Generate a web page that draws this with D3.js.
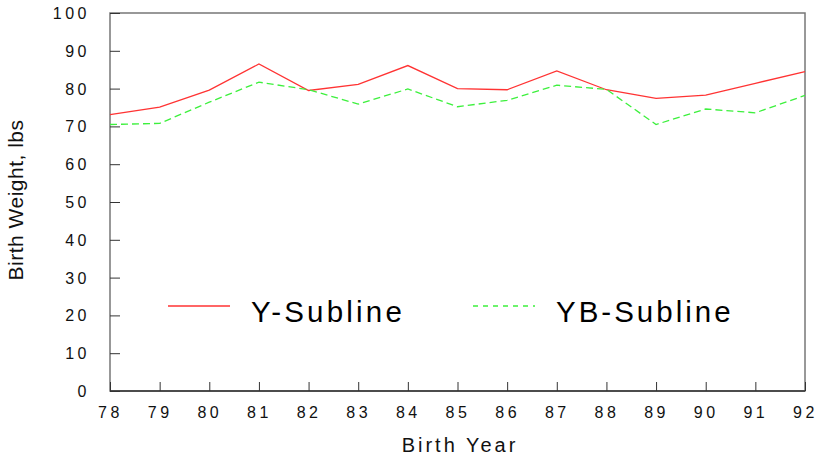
<!DOCTYPE html>
<html><head><meta charset="utf-8">
<script src="https://cdn.jsdelivr.net/npm/d3@7"></script>
<style>body{margin:0;background:#fff}text{font-family:"Liberation Sans",Arial,sans-serif}</style>
</head><body><svg id="c" width="820" height="457"></svg>
<script>
const years = [78,79,80,81,82,83,84,85,86,87,88,89,90,91,92];
const ySubline = [73.1,75.1,79.6,86.5,79.5,81.1,86.1,80.0,79.7,84.7,79.7,77.4,78.3,81.4,84.5];
const ybSubline = [70.5,70.8,76.4,81.7,79.7,75.9,79.9,75.2,76.9,80.9,79.8,70.5,74.6,73.6,78.2];
const yTicks = [0,10,20,30,40,50,60,70,80,90,100];
const seriesNames = ["Y-Subline","YB-Subline"];

const svg = d3.select("#c");
const L=110,R=805,T=13,B=391;
const x = d3.scaleLinear().domain([78,92]).range([L,R]);
const y = d3.scaleLinear().domain([0,100]).range([B,T]);

// frame
svg.append("rect").attr("x",L).attr("y",T).attr("width",R-L).attr("height",B-T)
  .attr("fill","none").attr("stroke","#777").attr("stroke-width",1.5);
svg.append("line").attr("x1",L).attr("x2",R).attr("y1",B).attr("y2",B).attr("stroke","#333").attr("stroke-width",1.5);

// y axis
const ya = svg.append("g").attr("transform",`translate(${L},0)`)
  .call(d3.axisRight(y).tickValues(yTicks).tickSize(10).tickFormat(""));
ya.select(".domain").remove();
ya.selectAll("line").attr("stroke","#333");
svg.selectAll(".ylab").data(yTicks).enter().append("text")
  .attr("x",90).attr("y",d=>y(d)+6).attr("text-anchor","end")
  .attr("font-size",16).attr("letter-spacing",3.5).attr("fill","#111").text(d=>d);

// x axis
const xa = svg.append("g").attr("transform",`translate(0,${B})`)
  .call(d3.axisTop(x).tickValues(years).tickSize(9).tickFormat(""));
xa.select(".domain").remove();
xa.selectAll("line").attr("stroke","#333");
svg.selectAll(".xlab").data(years).enter().append("text")
  .attr("x",d=>x(d)+0.5).attr("y",418).attr("text-anchor","middle")
  .attr("font-size",16).attr("letter-spacing",3.5).attr("fill","#111").text(d=>d);

svg.append("text").attr("x",460).attr("y",452).attr("text-anchor","middle")
  .attr("font-size",20).attr("letter-spacing",3).attr("fill","#111").text("Birth Year");
svg.append("text").attr("transform","translate(23,200) rotate(-90)").attr("text-anchor","middle")
  .attr("font-size",21).attr("letter-spacing",0.5).attr("fill","#111").text("Birth Weight, lbs");

const line = d3.line().x((d,i)=>x(years[i])).y(d=>y(d));
svg.append("path").datum(ySubline).attr("d",line).attr("fill","none").attr("stroke","#ff3333").attr("stroke-width",1.3);
svg.append("path").datum(ybSubline).attr("d",line).attr("fill","none").attr("stroke","#3df03d").attr("stroke-width",1.3).attr("stroke-dasharray","7,4");

// legend
svg.append("line").attr("x1",168).attr("x2",230).attr("y1",306).attr("y2",306).attr("stroke","#ff3333").attr("stroke-width",1.3);
svg.append("text").attr("x",251).attr("y",322).attr("font-size",29.5).attr("letter-spacing",3.2).attr("fill","#000").text(seriesNames[0]);
svg.append("line").attr("x1",473).attr("x2",535).attr("y1",306).attr("y2",306).attr("stroke","#3df03d").attr("stroke-width",1.3).attr("stroke-dasharray","5,5");
svg.append("text").attr("x",556).attr("y",322).attr("font-size",29.5).attr("letter-spacing",3).attr("fill","#000").text(seriesNames[1]);
</script></body></html>
